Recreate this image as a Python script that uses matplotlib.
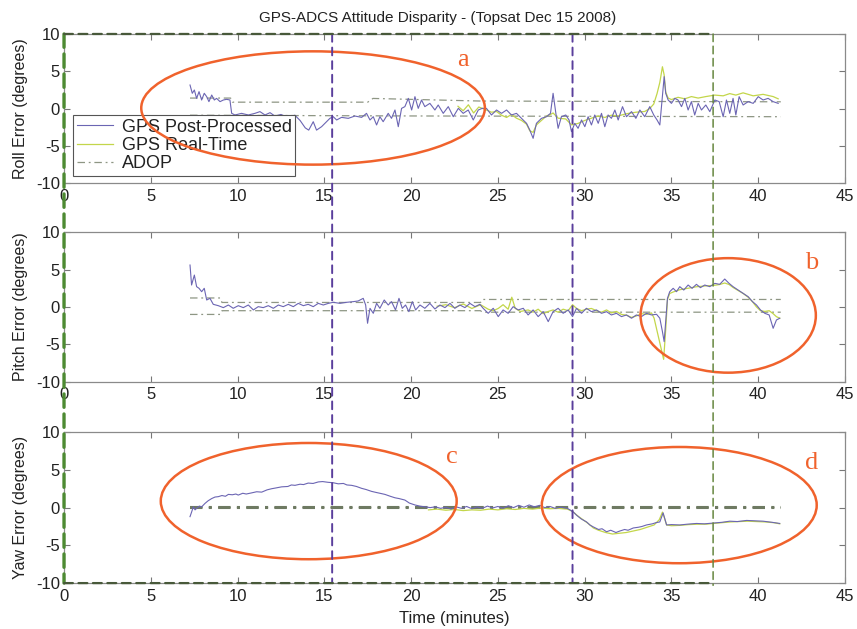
import matplotlib
matplotlib.use("Agg")
import matplotlib.pyplot as plt
from matplotlib.patches import Ellipse, ConnectionPatch

plt.rcParams['font.family'] = ['Liberation Sans', 'DejaVu Sans']
plt.rcParams['axes.unicode_minus'] = False

# ---------------- data (time in minutes, errors in degrees) ----------------
ROLL_PP_T = [7.26, 7.39, 7.51, 7.64, 7.78, 7.93, 8.08, 8.22, 8.35, 8.51,
             8.66, 8.79, 8.99, 9.18, 9.37, 9.56, 9.66, 9.85, 10.23, 10.62,
             11.0, 11.29, 11.58, 11.87, 12.15, 12.5, 12.9, 13.3, 13.6, 13.9,
             14.1, 14.36, 14.55, 14.84, 15.13, 15.32, 15.51, 15.71, 15.99, 16.38,
             16.76, 17.15, 17.43, 17.63, 17.82, 18.01, 18.2, 18.39, 18.68, 18.87,
             19.07, 19.26, 19.45, 19.64, 19.84, 20.03, 20.22, 20.41, 20.6, 20.79,
             21.08, 21.37, 21.56, 21.85, 22.14, 22.43, 22.72, 23.0, 23.29, 23.58,
             23.87, 24.1, 24.34, 24.63, 24.92, 25.21, 25.5, 25.78, 26.07, 26.36,
             26.65, 26.84, 27.03, 27.22, 27.51, 27.8, 28.03, 28.18, 28.34, 28.47,
             28.66, 28.91, 29.1, 29.24, 29.43, 29.62, 29.82, 30.01, 30.2, 30.39,
             30.58, 30.78, 30.97, 31.16, 31.35, 31.54, 31.74, 31.93, 32.18, 32.41,
             32.7, 32.95, 33.18, 33.46, 33.75, 33.98, 34.17, 34.33, 34.48, 34.58,
             34.67, 34.81, 35.0, 35.19, 35.38, 35.58, 35.77, 35.96, 36.15, 36.34,
             36.54, 36.73, 36.98, 37.21, 37.5, 37.75, 37.98, 38.17, 38.36, 38.55,
             38.71, 38.9, 39.13, 39.42, 39.71, 40.0, 40.28, 40.57, 40.86, 41.15]
ROLL_PP_V = [3.15, 2.04, 2.48, 1.36, 2.26, 1.14, 2.04, 1.59, 0.92, 1.81,
             1.14, 1.36, 0.92, 1.14, 1.23, 1.14, -0.65, -0.87, -0.65, -0.87,
             -0.65, -0.42, -0.87, -0.56, -1.01, -0.8, -1.2, -0.9, -1.6, -2.6,
             -2.9, -1.77, -2.9, -2.44, -1.77, -1.32, -1.1, -1.54, -1.19, -1.32,
             -1.01, -1.19, -0.65, -1.54, -1.1, -2.21, -1.1, -1.77, -0.65, -1.32,
             -0.2, -2.44, 0.02, 0.25, 1.36, -0.2, 1.59, 0.02, 1.14, 0.25,
             0.69, -0.2, 0.47, -0.65, 0.25, -1.1, 0.02, -0.65, -0.2, -1.54,
             -0.2, 0.02, 0.02, -0.87, -0.2, -0.65, -0.2, -0.87, -0.65, -1.32,
             -1.99, -2.9, -4.0, -1.99, -1.32, -1.1, -0.65, 2.04, -0.65, -2.66,
             -1.1, -0.87, -1.54, -3.11, -1.99, -2.66, -1.54, -2.44, -1.1, -2.21,
             -0.87, -1.99, -0.65, -2.44, -0.87, -1.32, -0.2, -1.54, 0.25, -1.1,
             -0.42, -1.32, -0.2, -1.1, 0.25, -0.87, -1.54, -2.21, 1.59, 4.27,
             2.04, 1.14, 0.69, 1.36, 1.14, 0.25, 1.36, -0.2, 0.92, -0.87,
             0.69, -0.2, 0.47, -0.42, 1.14, 0.92, -1.1, 1.14, -0.65, 1.36,
             -0.87, 1.59, 0.47, 0.92, 0.69, 1.59, 1.14, 1.36, 0.92, 0.69]

ROLL_RT_T = [22.7, 23.0, 23.3, 23.6, 23.9, 24.34, 24.63, 24.92, 25.21, 25.5,
             25.78, 26.07, 26.36, 26.65, 26.84, 27.03, 27.22, 27.51, 27.8, 28.03,
             28.18, 28.47, 28.91, 29.24, 29.62, 30.01, 30.39, 30.78, 31.16, 31.54,
             31.93, 32.41, 32.95, 33.46, 33.75, 33.98, 34.17, 34.33, 34.48, 34.58,
             34.67, 34.81, 35.0, 35.38, 35.77, 36.15, 36.54, 36.98, 37.5, 37.98,
             38.36, 38.71, 39.13, 39.71, 40.28, 40.86, 41.15]
ROLL_RT_V = [0.3, -0.3, 0.5, -0.6, 0.2, -0.2, -0.5, -0.4, -0.9, -1.2,
             -0.8, -1.3, -1.6, -2.1, -3.0, -3.2, -2.2, -1.6, -1.0, -0.8,
             -0.6, -1.3, -1.4, -2.2, -2.0, -1.6, -1.3, -1.0, -1.2, -0.9,
             -1.0, -0.7, -0.5, -0.4, 0.0, 0.6, 2.0, 3.5, 5.6, 4.5,
             2.2, 1.4, 1.2, 1.5, 1.3, 1.6, 1.4, 1.6, 1.8, 1.7,
             2.0, 1.8, 2.1, 1.7, 1.9, 1.6, 1.3]

ROLL_ADOP_HI_T = [7.26, 9.6, 9.7, 17.5, 17.8, 24.0, 41.3]
ROLL_ADOP_HI_V = [1.4, 1.4, 0.85, 0.85, 1.35, 1.0, 0.9]
ROLL_ADOP_LO_T = [7.26, 20.0, 41.3]
ROLL_ADOP_LO_V = [-0.9, -1.0, -1.1]

PITCH_PP_T = [7.26, 7.35, 7.51, 7.64, 7.78, 7.93, 8.08, 8.22, 8.41, 8.6,
              8.89, 9.18, 9.47, 9.75, 10.04, 10.33, 10.62, 10.91, 11.19, 11.48,
              11.77, 12.06, 12.35, 12.63, 12.92, 13.21, 13.5, 13.79, 14.07, 14.36,
              14.65, 14.94, 15.23, 15.51, 15.9, 16.28, 16.67, 16.95, 17.24, 17.38,
              17.49, 17.63, 17.82, 18.01, 18.2, 18.45, 18.68, 18.87, 19.1, 19.3,
              19.49, 19.68, 19.87, 20.07, 20.26, 20.51, 20.79, 21.08, 21.37, 21.66,
              21.95, 22.24, 22.52, 22.81, 23.1, 23.39, 23.68, 23.96, 24.15, 24.44,
              24.73, 25.02, 25.3, 25.59, 25.88, 26.17, 26.46, 26.74, 27.03, 27.32,
              27.61, 27.9, 28.18, 28.47, 28.76, 29.05, 29.3, 29.53, 29.82, 30.1,
              30.39, 30.68, 30.97, 31.26, 31.54, 31.83, 32.12, 32.41, 32.7, 32.98,
              33.27, 33.56, 33.85, 34.14, 34.33, 34.48, 34.58, 34.67, 34.77, 34.9,
              35.1, 35.29, 35.48, 35.71, 35.96, 36.19, 36.44, 36.67, 36.92, 37.21,
              37.5, 37.78, 38.07, 38.32, 38.55, 38.84, 39.13, 39.42, 39.67, 39.9,
              40.13, 40.38, 40.63, 40.86, 41.05, 41.24]
PITCH_PP_V = [5.6, 2.93, 4.26, 2.71, 2.49, 2.04, 2.49, 0.93, 1.15, 0.35,
              0.17, -0.09, 0.26, -0.18, 0.17, -0.09, 0.26, -0.4, 0.04, -0.09,
              0.17, -0.18, 0.26, 0.04, 0.35, 0.04, 0.48, 0.17, 0.35, 0.04,
              0.48, 0.26, 0.48, 0.62, 0.48, 0.62, 0.71, 0.8, 1.15, 0.26,
              -2.18, -0.18, -0.85, 0.48, -0.18, 0.93, 0.26, 0.71, -0.4, 1.15,
              -0.18, 0.26, -0.63, 0.71, -0.4, 0.26, -0.18, 0.48, -0.27, 0.26,
              -0.09, 0.48, -0.18, 0.26, -0.09, 0.48, 0.04, 0.35, -0.18, -0.85,
              -0.18, -1.29, -0.4, -0.85, 0.04, -0.4, -0.18, -1.07, -0.4, -1.29,
              -0.63, -1.96, -0.63, -0.18, -0.85, -0.4, -1.29, -0.18, -0.85, -0.18,
              -0.63, -0.4, -0.85, -0.63, -1.07, -0.85, -1.29, -1.07, -1.51, -1.07,
              -1.29, -0.85, -1.07, -0.98, -1.51, -3.29, -4.63, -1.96, 1.15, 2.04,
              2.49, 2.04, 2.71, 2.26, 2.93, 2.49, 3.02, 2.58, 2.93, 2.71,
              3.15, 3.02, 3.73, 3.15, 2.71, 2.26, 1.82, 1.37, 0.71, 0.26,
              -0.4, -0.85, -1.07, -2.85, -1.74, -1.51]

PITCH_RT_T = [21.5, 22.0, 22.5, 23.0, 23.5, 24.0, 24.44, 24.73, 25.02, 25.3,
              25.59, 25.8, 26.0, 26.3, 26.74, 27.03, 27.32, 27.61, 27.9, 28.18,
              28.47, 28.76, 29.05, 29.3, 29.53, 29.82, 30.1, 30.39, 30.68, 30.97,
              31.26, 31.54, 31.83, 32.12, 32.41, 32.7, 32.98, 33.27, 33.56, 33.85,
              34.0, 34.2, 34.4, 34.55, 34.67, 34.77, 34.9, 35.1, 35.48, 35.96,
              36.44, 36.92, 37.5, 37.78, 38.07, 38.32, 38.55, 38.84, 39.13, 39.42,
              39.67, 39.9, 40.13, 40.38, 40.63, 40.86, 41.05, 41.24]
PITCH_RT_V = [0.1, 0.3, -0.1, 0.4, -0.2, 0.3, -0.3, -0.5, -0.2, 0.3,
              -0.3, 1.3, -0.2, -0.6, -0.4, -0.7, -0.3, -0.9, -0.6, -0.4,
              -0.7, -0.3, -0.5, 0.3, -0.2, -0.5, -0.3, -0.2, -0.5, -0.7,
              -0.4, -0.8, -0.6, -1.0, -1.1, -1.4, -1.2, -0.9, -1.0, -0.8,
              -1.5, -3.5, -5.5, -7.0, -3.0, 1.0, 1.8, 2.0, 2.3, 2.5,
              2.7, 2.8, 2.9, 3.0, 3.2, 3.0, 2.6, 2.2, 1.8, 1.3,
              0.7, 0.0, -0.5, -0.6, -0.5, -0.9, -1.3, -1.5]

PITCH_ADOP_HI_T = [7.26, 9.0, 9.1, 24.0, 24.1, 41.3]
PITCH_ADOP_HI_V = [1.2, 1.2, 0.6, 0.6, 1.0, 1.0]
PITCH_ADOP_LO_T = [7.26, 9.0, 9.1, 24.0, 24.1, 41.3]
PITCH_ADOP_LO_V = [-1.0, -1.0, -0.5, -0.5, -0.7, -0.7]

YAW_PP_T = [7.26, 7.35, 7.45, 7.55, 7.64, 7.8, 7.93, 8.12, 8.3, 8.51,
            8.7, 8.89, 9.1, 9.3, 9.47, 9.7, 9.9, 10.04, 10.3, 10.5,
            10.81, 11.1, 11.39, 11.7, 11.96, 12.2, 12.54, 12.9, 13.1, 13.31,
            13.6, 13.8, 14.07, 14.35, 14.65, 14.9, 15.22, 15.5, 15.8, 16.1,
            16.3, 16.57, 16.85, 17.15, 17.4, 17.72, 18.0, 18.2, 18.49, 18.8,
            19.07, 19.3, 19.64, 19.9, 20.22, 20.5, 20.8, 21.1, 21.4, 21.7,
            22.0, 22.3, 22.6, 22.9, 23.2, 23.5, 23.8, 24.1, 24.4, 24.7,
            25.0, 25.3, 25.6, 25.9, 26.2, 26.5, 26.8, 27.1, 27.4, 27.7,
            28.0, 28.3, 28.6, 29.0, 29.15, 29.35, 29.53, 29.8, 30.11, 30.3,
            30.49, 30.8, 31.0, 31.26, 31.5, 31.8, 32.03, 32.3, 32.5, 32.8,
            33.1, 33.3, 33.56, 33.9, 34.1, 34.33, 34.52, 34.62, 34.72, 35.0,
            35.48, 35.9, 36.44, 36.9, 37.4, 37.9, 38.36, 38.8, 39.33, 39.8,
            40.28, 40.8, 41.24]
YAW_PP_V = [-1.2, -0.6, 0.1, -0.3, -0.1, 0.2, 0.1, 0.55, 0.9, 1.2,
            1.4, 1.45, 1.6, 1.5, 1.75, 1.7, 1.8, 1.66, 1.9, 1.8,
            1.95, 2.1, 2.05, 2.35, 2.5, 2.6, 2.75, 2.8, 3.0, 2.95,
            3.1, 3.05, 3.25, 3.2, 3.4, 3.45, 3.35, 3.3, 3.15, 3.2,
            3.0, 2.95, 2.8, 2.55, 2.4, 2.15, 2.0, 1.9, 1.75, 1.5,
            1.3, 1.2, 1.0, 0.6, 0.35, 0.2, 0.1, 0.0, 0.1, -0.1,
            0.05, -0.2, 0.1, -0.1, 0.15, -0.15, 0.1, -0.1, 0.2, -0.05,
            0.15, -0.1, 0.25, 0.0, 0.3, 0.05, 0.35, 0.1, 0.3, 0.0,
            0.15, -0.1, 0.05, -0.1, -0.3, -0.6, -1.0, -1.5, -1.9, -2.3,
            -2.55, -2.9, -2.8, -3.2, -3.0, -3.3, -3.1, -2.9, -3.0, -2.7,
            -2.6, -2.5, -2.3, -2.15, -2.0, -1.9, -0.7, -1.5, -2.3, -2.25,
            -2.3, -2.2, -2.1, -2.15, -2.05, -1.95, -1.8, -1.85, -1.7, -1.75,
            -1.8, -1.95, -2.1]

YAW_RT_T = [21.0, 21.5, 22.0, 22.5, 23.0, 23.5, 24.0, 24.5, 25.0, 25.5,
            26.0, 26.5, 27.0, 27.5, 28.0, 28.5, 29.0, 29.3, 29.6, 29.9,
            30.2, 30.5, 30.8, 31.2, 31.6, 32.0, 32.4, 32.8, 33.2, 33.6,
            34.0, 34.3, 34.48, 34.6, 34.72, 35.0, 35.5, 36.0, 36.5, 37.0,
            37.4, 37.9, 38.4, 38.9, 39.4, 39.9, 40.4, 40.9, 41.24]
YAW_RT_V = [-0.3, -0.2, -0.35, -0.25, -0.4, -0.3, -0.35, -0.2, -0.3, -0.15,
            -0.25, -0.1, -0.2, -0.05, -0.15, -0.1, -0.2, -0.5, -1.1, -1.6,
            -2.1, -2.7, -3.0, -3.3, -3.5, -3.4, -3.3, -3.1, -2.9, -2.6,
            -2.3, -1.6, -0.6, -1.4, -2.3, -2.4, -2.35, -2.25, -2.2, -2.2,
            -2.1, -2.0, -1.9, -1.85, -1.8, -1.85, -1.9, -2.0, -2.15]

YAW_ADOP_HI_T = [7.26, 41.3]
YAW_ADOP_HI_V = [0.08, 0.08]
YAW_ADOP_LO_T = [7.26, 41.3]
YAW_ADOP_LO_V = [-0.08, -0.08]

PANEL_LABELS = ['Roll Error (degrees)', 'Pitch Error (degrees)', 'Yaw Error (degrees)']
X_TICKS = [0, 5, 10, 15, 20, 25, 30, 35, 40, 45]
Y_TICKS = [-10, -5, 0, 5, 10]

# event markers (minutes)
EVENT_TIMES = [15.45, 29.3]
WINDOW_END = 37.4

# highlighted regions: panel, centre (t, deg), width, height, label, label position
REGIONS = [
    (0, (14.35, 0.07), 19.8, 15.2, 'a', (23.0, 6.5)),
    (1, (38.27, -1.13), 10.1, 15.3, 'b', (43.1, 5.9)),
    (2, (14.1, 0.86), 17.05, 15.4, 'c', (22.35, 6.7)),
    (2, (35.45, 0.33), 15.84, 15.4, 'd', (43.1, 5.9)),
]

# ---------------- figure ----------------
PP_COLOR = '#6b65b3'
RT_COLOR = '#c3d64a'
ADOP_COLOR = '#8e9684'
ORANGE = '#f0622c'
ADOP_DASH = (6, 3, 1.5, 3)

fig = plt.figure(figsize=(8.57, 6.29), dpi=100)
fig.patch.set_facecolor('white')
left, right = 0.0747, 0.986
rows = [(0.709, 0.946), (0.393, 0.631), (0.073, 0.313)]
axes = [fig.add_axes([left, b, right - left, t - b]) for b, t in rows]

series = [
    (ROLL_PP_T, ROLL_PP_V, ROLL_RT_T, ROLL_RT_V,
     ROLL_ADOP_HI_T, ROLL_ADOP_HI_V, ROLL_ADOP_LO_T, ROLL_ADOP_LO_V),
    (PITCH_PP_T, PITCH_PP_V, PITCH_RT_T, PITCH_RT_V,
     PITCH_ADOP_HI_T, PITCH_ADOP_HI_V, PITCH_ADOP_LO_T, PITCH_ADOP_LO_V),
    (YAW_PP_T, YAW_PP_V, YAW_RT_T, YAW_RT_V,
     YAW_ADOP_HI_T, YAW_ADOP_HI_V, YAW_ADOP_LO_T, YAW_ADOP_LO_V),
]

for i, (ax, s) in enumerate(zip(axes, series)):
    pp_t, pp_v, rt_t, rt_v, hi_t, hi_v, lo_t, lo_v = s
    adop_col = ADOP_COLOR if i < 2 else '#6e7a62'
    adop_lw = 0.9 if i < 2 else 1.5
    ax.plot(hi_t, hi_v, color=adop_col, lw=adop_lw, dashes=ADOP_DASH,
            label='ADOP', zorder=2)
    ax.plot(lo_t, lo_v, color=adop_col, lw=adop_lw, dashes=ADOP_DASH, zorder=2)
    ax.plot(rt_t, rt_v, color=RT_COLOR, lw=0.9, label='GPS Real-Time', zorder=3)
    ax.plot(pp_t, pp_v, color=PP_COLOR, lw=0.8, label='GPS Post-Processed', zorder=3)

    ax.set_xlim(0, 45)
    ax.set_ylim(-10, 10)
    ax.set_xticks(X_TICKS)
    ax.set_yticks(Y_TICKS)
    ax.tick_params(direction='in', top=True, right=True, length=4, width=0.8,
                   color='#777777', labelsize=12, labelcolor='#222222')
    ax.tick_params(axis='x', pad=4)
    ax.tick_params(axis='y', pad=3)
    for sp in ax.spines.values():
        sp.set_color('#8a8a8a')
        sp.set_linewidth(0.9)
    ax.set_ylabel(PANEL_LABELS[i], fontsize=11.5, color='#222222', labelpad=6)

axes[2].set_xlabel('Time (minutes)', fontsize=12, color='#222222', labelpad=5)

# legend in the roll panel
h, l = axes[0].get_legend_handles_labels()
order = [l.index('GPS Post-Processed'), l.index('GPS Real-Time'), l.index('ADOP')]
leg = axes[0].legend([h[k] for k in order], [l[k] for k in order],
                     loc='lower left', bbox_to_anchor=(0.0115, 0.047),
                     borderaxespad=0, fontsize=13, frameon=True, fancybox=False,
                     framealpha=1, edgecolor='#555555', handlelength=2.0,
                     handletextpad=0.5, labelspacing=0.08, borderpad=0.2)
leg.get_frame().set_linewidth(0.8)
for txt in leg.get_texts():
    txt.set_color('#222222')

# orange region outlines with letters
for panel, centre, w, hgt, letter, pos in REGIONS:
    ax = axes[panel]
    ax.add_patch(Ellipse(centre, w, hgt, fill=False, edgecolor=ORANGE, lw=1.8,
                         zorder=6, clip_on=False))
    ax.text(pos[0], pos[1], letter, color=ORANGE, fontsize=19,
            family=['Liberation Serif', 'DejaVu Serif'], ha='center', va='center',
            zorder=7)

# dashed markers running through all three panels
def span_line(x0, y0, x1, y1, ax0, ax1, **kw):
    cp = ConnectionPatch(xyA=(x0, y0), coordsA=ax0.transData,
                         xyB=(x1, y1), coordsB=ax1.transData, **kw)
    cp.set_zorder(8)
    fig.add_artist(cp)

for t in EVENT_TIMES:
    span_line(t, 10, t, -10, axes[0], axes[2], color='#5a3e9c', lw=1.4,
              linestyle=(0, (4, 3)))
span_line(WINDOW_END, 10, WINDOW_END, -10.3, axes[0], axes[2], color='#66863f',
          lw=1.1, linestyle=(0, (5, 3)))
span_line(0, 10, 0, -10, axes[0], axes[2], color='#4d8a32', lw=2.4,
          linestyle=(0, (4, 2)))
span_line(0, 10, WINDOW_END, 10, axes[0], axes[0], color='#48593a', lw=1.6,
          linestyle=(0, (4, 2.5)))
span_line(0, -10, WINDOW_END, -10, axes[2], axes[2], color='#48593a', lw=1.6,
          linestyle=(0, (4, 2.5)))

fig.text(0.511, 0.972, 'GPS-ADCS Attitude Disparity - (Topsat Dec 15 2008)',
         ha='center', va='center', fontsize=11, color='#222222')

fig.savefig('out.png', dpi=100, facecolor='white')
